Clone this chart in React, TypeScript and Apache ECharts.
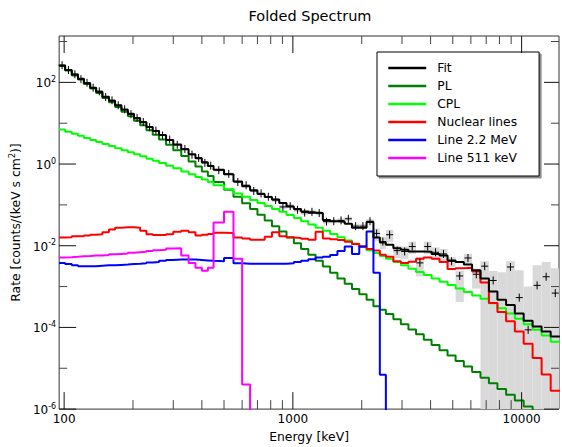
import React, { useEffect, useRef } from "react";
import * as echarts from "echarts";

const FONT = "DejaVu Sans";

// Channel edges in keV (68 bins)
const binEdges = [95, 101, 108, 115, 122, 130, 138, 147, 157, 167, 178, 190, 202, 215, 229, 244, 260, 279, 300, 325, 350, 375, 400, 425, 450, 500, 550, 600, 650, 700, 753, 810, 872, 938, 1010, 1086, 1168, 1257, 1352, 1455, 1566, 1685, 1813, 1951, 2100, 2250, 2400, 2550, 2750, 2965, 3200, 3455, 3735, 4040, 4375, 4745, 5145, 5590, 6075, 6610, 7195, 7840, 8555, 9340, 10210, 11170, 12230, 13400, 14700];

const fitRate = [257, 200, 155, 123, 95.5, 74.1, 58.9, 44.7, 35.5, 27.5, 21.4, 17.0, 13.2, 10.5, 8.13, 6.46, 5.13, 3.89, 3.02, 2.29, 1.74, 1.38, 1.10, 0.891, 0.724, 0.562, 0.372, 0.288, 0.229, 0.186, 0.155, 0.135, 0.111, 0.0912, 0.0794, 0.0692, 0.0646, 0.0631, 0.0427, 0.0398, 0.0389, 0.0347, 0.0275, 0.0275, 0.0380, 0.0158, 0.0120, 0.0105, 8.71e-3, 7.94e-3, 7.24e-3, 7.24e-3, 7.08e-3, 6.31e-3, 5.75e-3, 4.37e-3, 3.98e-3, 3.47e-3, 2.51e-3, 1.58e-3, 7.59e-4, 4.79e-4, 3.55e-4, 2.19e-4, 1.45e-4, 1.05e-4, 7.94e-5, 6.03e-5];

const plRate = [251, 195, 148, 117, 91.2, 70.8, 55.0, 41.7, 32.4, 25.1, 19.1, 14.8, 11.5, 8.91, 6.76, 5.25, 3.98, 2.95, 2.19, 1.58, 1.15, 0.871, 0.661, 0.513, 0.363, 0.234, 0.158, 0.110, 0.0794, 0.0575, 0.0417, 0.0302, 0.0224, 0.0162, 0.0115, 8.32e-3, 6.03e-3, 4.27e-3, 3.09e-3, 2.19e-3, 1.58e-3, 1.17e-3, 8.71e-4, 6.46e-4, 4.79e-4, 3.31e-4, 2.69e-4, 2.14e-4, 1.58e-4, 1.20e-4, 8.91e-5, 6.76e-5, 5.01e-5, 3.72e-5, 2.75e-5, 2.04e-5, 1.51e-5, 1.10e-5, 8.13e-6, 5.89e-6, 4.27e-6, 3.09e-6, 2.24e-6, 1.62e-6, 1.15e-6, 8.3e-7, 5.9e-7, 4.2e-7];

const cplRate = [7.0, 6.17, 5.50, 4.90, 4.37, 3.89, 3.47, 3.09, 2.75, 2.45, 2.19, 1.95, 1.74, 1.55, 1.35, 1.20, 1.06, 0.912, 0.794, 0.661, 0.562, 0.479, 0.417, 0.363, 0.302, 0.240, 0.191, 0.158, 0.132, 0.112, 0.0933, 0.0794, 0.0676, 0.0562, 0.0479, 0.0398, 0.0331, 0.0275, 0.0234, 0.0195, 0.0162, 0.0135, 0.0112, 9.33e-3, 7.76e-3, 6.61e-3, 5.62e-3, 4.79e-3, 3.98e-3, 3.31e-3, 2.75e-3, 2.29e-3, 1.91e-3, 1.58e-3, 1.32e-3, 1.10e-3, 8.91e-4, 7.41e-4, 6.03e-4, 5.01e-4, 3.89e-4, 2.95e-4, 2.19e-4, 1.62e-4, 1.20e-4, 8.71e-5, 6.31e-5, 4.47e-5];

const nuclearRate = [1.58e-2, 1.62e-2, 1.70e-2, 1.70e-2, 1.78e-2, 1.86e-2, 1.91e-2, 2.14e-2, 2.51e-2, 2.75e-2, 2.82e-2, 2.85e-2, 2.75e-2, 2.34e-2, 1.91e-2, 1.82e-2, 1.82e-2, 1.91e-2, 2.19e-2, 2.34e-2, 2.14e-2, 1.78e-2, 1.86e-2, 1.95e-2, 2.09e-2, 2.04e-2, 1.58e-2, 1.51e-2, 1.41e-2, 1.41e-2, 1.66e-2, 2.14e-2, 1.70e-2, 1.58e-2, 1.55e-2, 1.48e-2, 1.41e-2, 2.19e-2, 1.51e-2, 1.45e-2, 1.38e-2, 1.26e-2, 1.10e-2, 9.55e-3, 8.32e-3, 7.59e-3, 6.03e-3, 5.37e-3, 4.17e-3, 3.80e-3, 4.07e-3, 4.79e-3, 5.13e-3, 4.79e-3, 3.98e-3, 2.69e-3, 2.82e-3, 2.88e-3, 2.34e-3, 1.26e-3, 3.98e-4, 2.40e-4, 1.41e-4, 7.94e-5, 3.98e-5, 1.78e-5, 7.08e-6, 2.82e-6];

// first 47 bins; beyond, the component is below the axis
const line22Rate = [3.80e-3, 3.55e-3, 3.31e-3, 3.16e-3, 3.16e-3, 3.16e-3, 3.24e-3, 3.31e-3, 3.31e-3, 3.39e-3, 3.47e-3, 3.55e-3, 3.63e-3, 3.72e-3, 3.89e-3, 3.98e-3, 4.27e-3, 4.47e-3, 4.57e-3, 4.57e-3, 4.57e-3, 4.47e-3, 4.37e-3, 4.27e-3, 4.17e-3, 5.01e-3, 3.72e-3, 3.63e-3, 3.63e-3, 3.63e-3, 3.63e-3, 3.63e-3, 3.63e-3, 3.72e-3, 3.98e-3, 4.27e-3, 4.68e-3, 5.13e-3, 5.37e-3, 5.89e-3, 7.41e-3, 9.55e-3, 6.31e-3, 9.55e-3, 2.24e-2, 2.19e-3, 6.92e-6];

// first 28 bins
const line511Rate = [5.13e-3, 5.25e-3, 5.37e-3, 5.50e-3, 5.62e-3, 5.75e-3, 5.75e-3, 5.89e-3, 6.17e-3, 6.31e-3, 6.46e-3, 6.76e-3, 6.92e-3, 7.08e-3, 7.41e-3, 7.76e-3, 7.94e-3, 8.51e-3, 8.71e-3, 5.75e-3, 3.80e-3, 2.88e-3, 2.45e-3, 2.88e-3, 3.72e-2, 6.76e-2, 4.79e-3, 3.98e-6];

const belowAxis = 1e-9;

const dataRate = [263, 200, 158, 120, 97.7, 74.1, 60.3, 43.7, 36.3, 27.5, 21.9, 16.6, 13.5, 10.7, 7.94, 6.61, 5.01, 3.98, 2.95, 2.34, 1.70, 1.41, 1.07, 0.912, 0.708, 0.575, 0.363, 0.302, 0.219, 0.191, 0.158, 0.132, 0.0891, 0.0933, 0.0759, 0.0646, 0.0676, 0.0631, 0.0389, 0.0398, 0.0417, 0.0457, 0.0302, 0.0302, 0.0398, 0.0200, 0.0126, 0.0186, 7.59e-3, 7.24e-3, 9.55e-3, 3.80e-3, 9.55e-3, 6.92e-3, 6.31e-3, 4.17e-3, 1.82e-3, 5.01e-3, 2.00e-3, 3.16e-3, 1.41e-3, null, 3.02e-3, 5.37e-4, 8.71e-5, 1.07e-3, 1.74e-3, 6.92e-4];

const dataHigh = [275, 209, 166, 126, 102, 77.6, 63.1, 45.7, 38.0, 28.8, 22.9, 17.4, 14.1, 11.2, 8.32, 6.92, 5.25, 4.17, 3.09, 2.45, 1.78, 1.51, 1.15, 0.977, 0.759, 0.617, 0.389, 0.324, 0.234, 0.204, 0.170, 0.148, 0.100, 0.105, 0.0851, 0.0724, 0.0759, 0.0708, 0.0437, 0.0447, 0.0468, 0.0513, 0.0339, 0.0339, 0.0447, 0.0263, 0.0166, 0.0245, 0.0100, 9.55e-3, 0.0126, 5.25e-3, 0.0126, 9.12e-3, 8.32e-3, 5.25e-3, 2.40e-3, 6.31e-3, 2.75e-3, 4.17e-3, 2.40e-3, 2.24e-3, 4.17e-3, 2.51e-3, 1.00e-3, 3.31e-3, 3.98e-3, 2.82e-3];

const dataLow = [251, 191, 151, 115, 93.3, 70.8, 57.5, 41.7, 34.7, 26.3, 20.9, 15.8, 12.9, 10.2, 7.59, 6.31, 4.79, 3.80, 2.82, 2.24, 1.62, 1.32, 1.00, 0.851, 0.661, 0.537, 0.339, 0.282, 0.204, 0.178, 0.148, 0.118, 0.0794, 0.0832, 0.0676, 0.0575, 0.0603, 0.0562, 0.0347, 0.0355, 0.0372, 0.0407, 0.0269, 0.0269, 0.0355, 0.0132, 8.32e-3, 0.0123, 5.01e-3, 4.79e-3, 6.31e-3, 1.78e-3, 6.31e-3, 4.57e-3, 4.17e-3, 3.02e-3, 4.17e-4, 3.55e-3, 8.91e-4, 1e-9, 1e-9, 1e-9, 1e-9, 1e-9, 1e-9, 1e-9, 1e-9, 1e-9];

const xMajorTicks = [100, 1000, 10000];
const xMinorTicks = [200, 300, 400, 500, 600, 700, 800, 900, 2000, 3000, 4000, 5000, 6000, 7000, 8000, 9000];
const yMajorTicks = [1e-6, 1e-4, 1e-2, 1, 1e2];
const yMinorTicks = [1e-5, 1e-3, 1e-1, 10, 1e3];

const seriesNames = ["Fit", "PL", "CPL", "Nuclear lines", "Line 2.2 MeV", "Line 511 keV"];
const seriesColors = ["#000000", "#008000", "#00ff00", "#ff0000", "#0000ff", "#ff00ff"];

function stepData(vals: number[], drop: boolean) {
  const pts: number[][] = vals.map((v, i) => [binEdges[i], v]);
  pts.push([binEdges[vals.length], drop ? belowAxis : vals[vals.length - 1]]);
  return pts;
}

export default function App() {
  const ref = useRef<HTMLDivElement>(null);
  useEffect(() => {
    const chart = echarts.init(ref.current!, undefined, { renderer: "svg" });

    const lineSeries = (idx: number, data: number[][], z: number) => ({
      type: "line",
      name: seriesNames[idx],
      data,
      step: "end",
      symbol: "none",
      showSymbol: false,
      clip: true,
      silent: true,
      z,
      lineStyle: { color: seriesColors[idx], width: 2 },
      itemStyle: { color: seriesColors[idx] },
      emphasis: { disabled: true },
    });

    const boxData = dataLow.map((lo, i) => [binEdges[i], binEdges[i + 1], lo, dataHigh[i]]);
    const crossData: number[][] = [];
    dataRate.forEach((v, i) => {
      if (v != null) crossData.push([Math.sqrt(binEdges[i] * binEdges[i + 1]), v]);
    });
    const xTickData = [...xMajorTicks.map((v) => [v, 1, 1]), ...xMinorTicks.map((v) => [v, 1, 0])];
    const yTickData = [...yMajorTicks.map((v) => [100, v, 1]), ...yMinorTicks.map((v) => [100, v, 0])];

    const isPow10 = (v: number) => {
      const e = Math.log10(v);
      return Math.abs(e - Math.round(e)) < 1e-6;
    };

    const option: any = {
      animation: false,
      backgroundColor: "#ffffff",
      title: {
        text: "Folded Spectrum",
        left: 310,
        top: 8,
        textAlign: "center",
        padding: 0,
        textStyle: { fontFamily: FONT, fontSize: 14.5, fontWeight: "normal", color: "#000" },
      },
      legend: {
        orient: "vertical",
        left: 377,
        top: 52,
        data: seriesNames,
        itemWidth: 38,
        itemHeight: 14,
        itemGap: 6,
        padding: [10, 22, 12, 10],
        backgroundColor: "#ffffff",
        borderColor: "#000",
        borderWidth: 1,
        borderRadius: 0,
        shadowColor: "rgba(0,0,0,0.45)",
        shadowBlur: 1,
        shadowOffsetX: 2,
        shadowOffsetY: 2,
        selectedMode: false,
        itemStyle: { opacity: 0 },
        lineStyle: { width: 2.5 },
        textStyle: { fontFamily: FONT, fontSize: 12.3, color: "#000", padding: [0, 0, 0, 6] },
      },
      grid: {
        left: 58.4,
        right: 1,
        top: 36,
        bottom: 28.8,
        show: true,
        borderColor: "#333",
        borderWidth: 1,
        backgroundColor: "transparent",
      },
      xAxis: {
        type: "log",
        logBase: 10,
        min: 95.1,
        max: 14570,
        axisLine: { show: false },
        axisTick: { show: false },
        splitLine: { show: false },
        axisLabel: {
          interval: 0,
          margin: 4,
          fontFamily: FONT,
          fontSize: 12,
          color: "#000",
          formatter: (v: number) => (isPow10(v) ? String(Math.round(v)) : ""),
        },
        name: "Energy [keV]",
        nameLocation: "middle",
        nameGap: 17,
        nameTextStyle: { fontFamily: FONT, fontSize: 12.4, color: "#000" },
      },
      yAxis: {
        type: "log",
        logBase: 10,
        min: 1e-6,
        max: 1365,
        axisLine: { show: false },
        axisTick: { show: false },
        splitLine: { show: false },
        axisLabel: {
          interval: 0,
          margin: 3,
          color: "#000",
          formatter: (v: number) => {
            const e = Math.log10(v);
            const r = Math.round(e);
            if (Math.abs(e - r) > 1e-6 || r % 2 !== 0) return "";
            return `{b|10}{s|${r}}`;
          },
          rich: {
            b: { fontFamily: FONT, fontSize: 12, color: "#000", lineHeight: 14, verticalAlign: "bottom" },
            s: { fontFamily: FONT, fontSize: 8, color: "#000", lineHeight: 9, verticalAlign: "top" },
          },
        },
        name: "Rate [counts/(keV s cm{s|2})]",
        nameLocation: "middle",
        nameRotate: 90,
        nameGap: 36,
        nameTextStyle: {
          fontFamily: FONT,
          fontSize: 12.4,
          color: "#000",
          lineHeight: 14,
          rich: {
            s: { fontFamily: FONT, fontSize: 8, color: "#000", lineHeight: 9, verticalAlign: "top" },
          },
        },
      },
      series: [
        {
          type: "custom",
          name: "errors",
          silent: true,
          z: 1,
          data: boxData,
          encode: { x: [0, 1], y: [2, 3] },
          renderItem: (params: any, api: any) => {
            const p0 = api.coord([api.value(0), api.value(3)]);
            const p1 = api.coord([api.value(1), api.value(2)]);
            const cs = params.coordSys;
            const shape = echarts.graphic.clipRectByRect(
              { x: p0[0], y: p0[1], width: p1[0] - p0[0], height: p1[1] - p0[1] },
              { x: cs.x, y: cs.y, width: cs.width, height: cs.height }
            );
            if (!shape) return null;
            return { type: "rect", shape, style: { fill: "#d9d9d9" } };
          },
        },
        lineSeries(1, stepData(plRate, false), 2),
        lineSeries(2, stepData(cplRate, false), 2),
        lineSeries(3, stepData(nuclearRate, false), 2),
        lineSeries(4, stepData(line22Rate, true), 2),
        lineSeries(5, stepData(line511Rate, true), 2),
        lineSeries(0, stepData(fitRate, false), 3),
        {
          type: "custom",
          name: "data",
          silent: true,
          z: 4,
          data: crossData,
          renderItem: (params: any, api: any) => {
            const p = api.coord([api.value(0), api.value(1)]);
            const cs = params.coordSys;
            if (p[1] < cs.y || p[1] > cs.y + cs.height || p[0] > cs.x + cs.width) return null;
            return {
              type: "group",
              children: [
                { type: "line", shape: { x1: p[0] - 3.5, y1: p[1], x2: p[0] + 3.5, y2: p[1] }, style: { stroke: "#000", lineWidth: 1 } },
                { type: "line", shape: { x1: p[0], y1: p[1] - 4, x2: p[0], y2: p[1] + 4 }, style: { stroke: "#000", lineWidth: 1 } },
              ],
            };
          },
        },
        {
          type: "custom",
          name: "xticks",
          silent: true,
          z: 10,
          clip: false,
          data: xTickData,
          renderItem: (params: any, api: any) => {
            const x = api.coord([api.value(0), 1])[0];
            const major = api.value(2) === 1;
            const cs = params.coordSys;
            const bot = cs.y + cs.height;
            const top = cs.y;
            const stroke = major ? "#111" : "#444";
            return {
              type: "group",
              children: [
                { type: "line", shape: { x1: x, y1: bot, x2: x, y2: bot - (major ? 17 : 9) }, style: { stroke, lineWidth: 1 } },
                { type: "line", shape: { x1: x, y1: top, x2: x, y2: top + (major ? 17 : 8) }, style: { stroke, lineWidth: 1 } },
              ],
            };
          },
        },
        {
          type: "custom",
          name: "yticks",
          silent: true,
          z: 10,
          clip: false,
          data: yTickData,
          renderItem: (params: any, api: any) => {
            const y = api.coord([100, api.value(1)])[1];
            const major = api.value(2) === 1;
            const cs = params.coordSys;
            const left = cs.x;
            const right = cs.x + cs.width;
            const stroke = major ? "#111" : "#444";
            return {
              type: "group",
              children: [
                { type: "line", shape: { x1: left, y1: y, x2: left + (major ? 17 : 8), y2: y }, style: { stroke, lineWidth: 1 } },
                { type: "line", shape: { x1: right, y1: y, x2: right - (major ? 15 : 8), y2: y }, style: { stroke, lineWidth: 1 } },
              ],
            };
          },
        },
      ],
    };

    chart.setOption(option);
    return () => chart.dispose();
  }, []);

  return <div ref={ref} style={{ position: "fixed", left: 0, top: 0, width: 562, height: 447 }} />;
}
